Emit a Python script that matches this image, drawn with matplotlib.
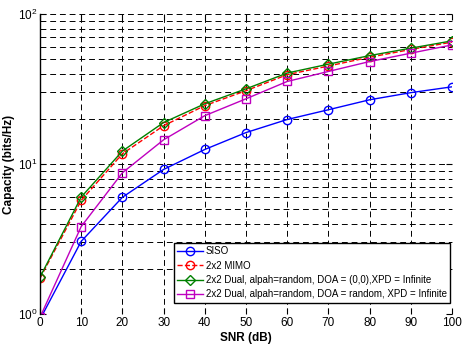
import matplotlib.pyplot as plt
import numpy as np

plt.rcParams["font.family"] = ["Liberation Sans", "DejaVu Sans"]

snr_db = [0, 10, 20, 30, 40, 50, 60, 70, 80, 90, 100]
siso = [0.92, 3.05, 6.0, 9.2, 12.5, 16.2, 19.8, 23.0, 26.8, 29.9, 32.7]
mimo = [1.73, 5.72, 11.7, 18.0, 24.5, 30.8, 39.4, 45.0, 51.5, 58.0, 65.0]
dual_fixed = [1.76, 6.02, 12.2, 18.9, 25.2, 31.7, 40.4, 46.3, 52.8, 59.2, 66.2]
dual_random = [0.95, 3.83, 8.74, 14.5, 21.0, 27.2, 35.5, 41.4, 48.2, 54.8, 62.2]

labels = [
    "SISO",
    "2x2 MIMO",
    "2x2 Dual, alpah=random, DOA = (0,0),XPD = Infinite",
    "2x2 Dual, alpah=random, DOA = random, XPD = Infinite",
]

fig = plt.figure(figsize=(4.62, 3.44), dpi=100)
ax = fig.add_axes([40 / 462, 30 / 344, 412 / 462, 300 / 344])

ax.semilogy(snr_db, siso, "b-o", mfc="none", ms=6, lw=1, label=labels[0])
ax.semilogy(snr_db, mimo, "r--o", mfc="none", ms=6, lw=1, label=labels[1])
ax.semilogy(snr_db, dual_fixed, "-D", color="#008000", mfc="none", ms=5, lw=1, label=labels[2])
ax.semilogy(snr_db, dual_random, "-s", color="m", mfc="none", ms=6, lw=1, label=labels[3])

ax.set_xlim(0, 100)
ax.set_ylim(1, 100)
ax.set_xticks(snr_db)
ax.grid(True, which="both", color="k", linestyle=(0, (6, 4)), linewidth=0.7)
for side in ["top", "right", "bottom"]:
    ax.spines[side].set_visible(False)
ax.spines["left"].set_linewidth(1.0)
ax.tick_params(which="both", direction="in", top=True, right=True, labelsize=8.5, pad=2)
ax.tick_params(which="major", length=4)
ax.tick_params(which="minor", length=2)

ax.set_xlabel("SNR (dB)", fontweight="bold", fontsize=8.5, labelpad=2)
ax.set_ylabel("Capacity (bits/Hz)", fontweight="bold", fontsize=8.5, labelpad=2)

leg = ax.legend(loc="lower right", fontsize=7.0, frameon=True, fancybox=False,
                edgecolor="k", framealpha=1, borderaxespad=0,
                bbox_to_anchor=(0.995, 0.037),
                handlelength=2.6, handletextpad=0.3, labelspacing=0.45,
                borderpad=0.35)
leg.get_frame().set_linewidth(1.0)

fig.savefig("out.png", dpi=100)
